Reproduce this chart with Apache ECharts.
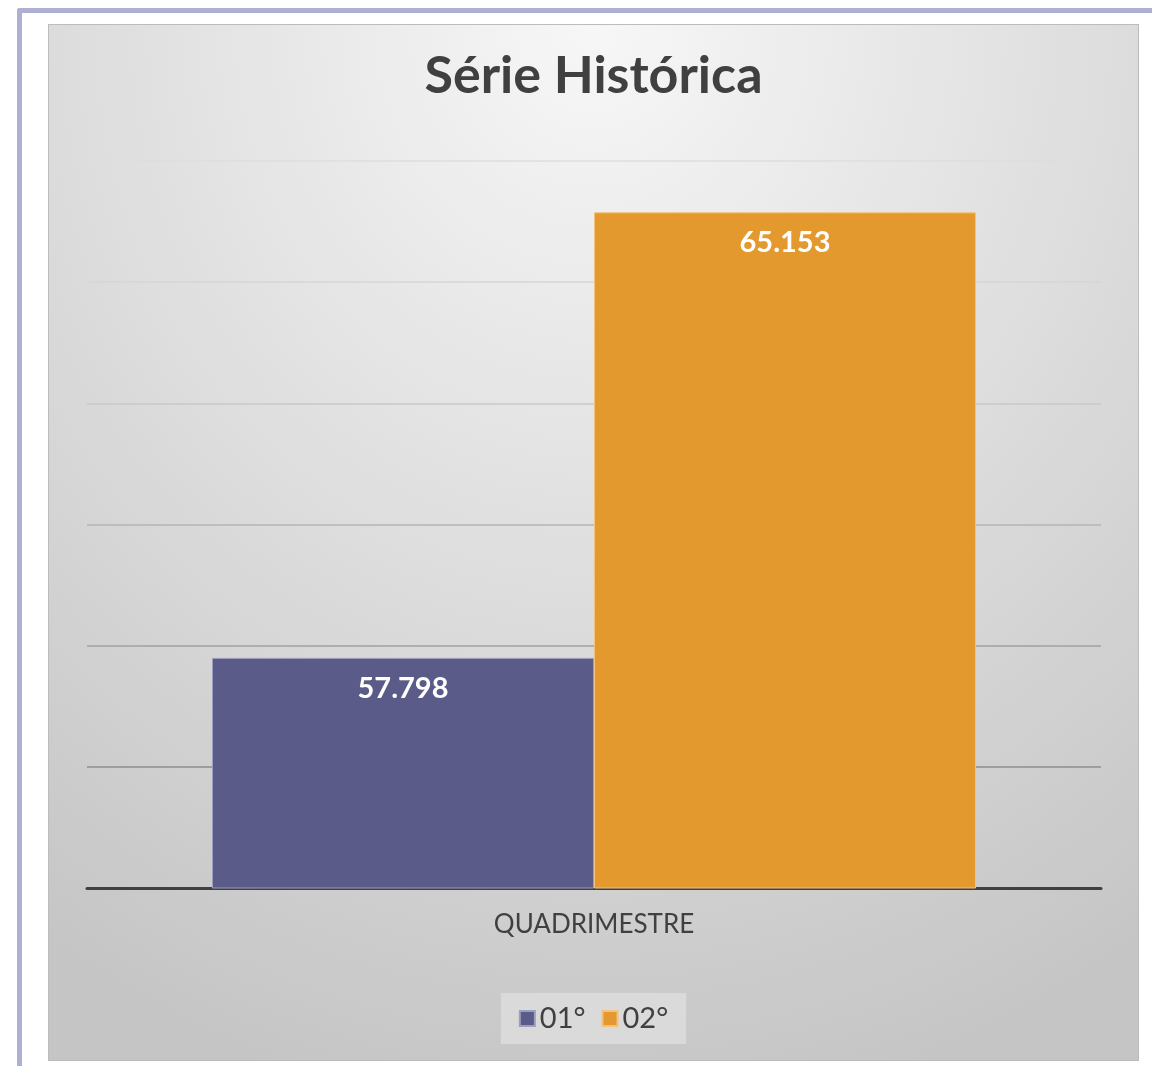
<!DOCTYPE html>
<html>
<head>
<meta charset="utf-8">
<script src="https://cdn.jsdelivr.net/npm/echarts@6/dist/echarts.min.js"></script>
<style>
  html, body { margin: 0; padding: 0; background: #ffffff; width: 1152px; height: 1066px; overflow: hidden; }
  #frame { position: absolute; left: 17px; top: 8px; width: 1200px; height: 1100px;
           border-top: 5px solid #adafd3; border-left: 5px solid #adafd3; border-top-left-radius: 3px; }
  #panel { position: absolute; left: 48px; top: 24px; width: 1091px; height: 1037px; box-sizing: border-box;
           border: 1px solid #bcbcbc;
           background: radial-gradient(1000px 1100px at 50% 0, #f7f7f7 0%, #c5c5c5 100%); }
  #chart { position: absolute; left: 0; top: 0; width: 1089px; height: 1035px; }
</style>
</head>
<body>
<div id="frame"></div>
<div id="panel"><div id="chart"></div></div>
<script>
// ---- data ----
var titleText = 'Série Histórica';
var categories = ['QUADRIMESTRE'];
var seriesNames = ['01°', '02°'];
var values01 = [57.798];
var values02 = [65.153];
var yMin = 54, yMax = 66, yStep = 2;

var font = 'Lato, "Noto Sans", sans-serif';
var chart = echarts.init(document.getElementById('chart'), null, { renderer: 'canvas' });

var barLabel = {
  show: true,
  position: 'insideTop',
  distance: 16,
  color: '#ffffff',
  fontFamily: font,
  fontWeight: 'bold',
  fontSize: 29,
  formatter: function (p) { return p.value.toFixed(3); }
};

chart.setOption({
  backgroundColor: 'transparent',
  animation: false,
  title: {
    text: titleText,
    left: 'center',
    top: 20,
    textStyle: { fontFamily: font, fontWeight: 'bold', fontSize: 52, color: '#404040' }
  },
  legend: {
    data: seriesNames,
    left: 'center',
    top: 968,
    backgroundColor: '#dadada',
    padding: [11, 18],
    itemWidth: 15,
    itemHeight: 15,
    itemGap: 16,
    icon: 'rect',
    textStyle: { fontFamily: font, fontSize: 29, color: '#404040' }
  },
  grid: { left: 38, right: 37, top: 136, bottom: 172, containLabel: false },
  xAxis: {
    type: 'category',
    data: categories,
    axisLine: { show: true, lineStyle: { color: '#404040', width: 3 } },
    axisTick: { show: false },
    axisLabel: { margin: 24, fontFamily: font, fontSize: 26, color: '#404040' },
    splitLine: { show: false }
  },
  yAxis: {
    type: 'value',
    min: yMin,
    max: yMax,
    interval: yStep,
    axisLine: { show: false },
    axisTick: { show: false },
    axisLabel: { show: false },
    splitLine: {
      show: true,
      lineStyle: {
        width: 1.5,
        color: ['#8a8a8a', '#8e8e8e', '#a0a0a0', '#b4b4b4', '#c8c8c8', '#d6d6d6', '#dedede']
      }
    }
  },
  series: [
    {
      name: seriesNames[0],
      type: 'bar',
      data: values01,
      barWidth: 382,
      barGap: '0%',
      itemStyle: { color: '#5b5b89', borderColor: '#9d9dbd', borderWidth: 1 },
      label: barLabel
    },
    {
      name: seriesNames[1],
      type: 'bar',
      data: values02,
      barWidth: 382,
      barGap: '0%',
      itemStyle: { color: '#e3992e', borderColor: '#f2c27f', borderWidth: 1 },
      label: barLabel
    }
  ]
});
</script>
</body>
</html>
